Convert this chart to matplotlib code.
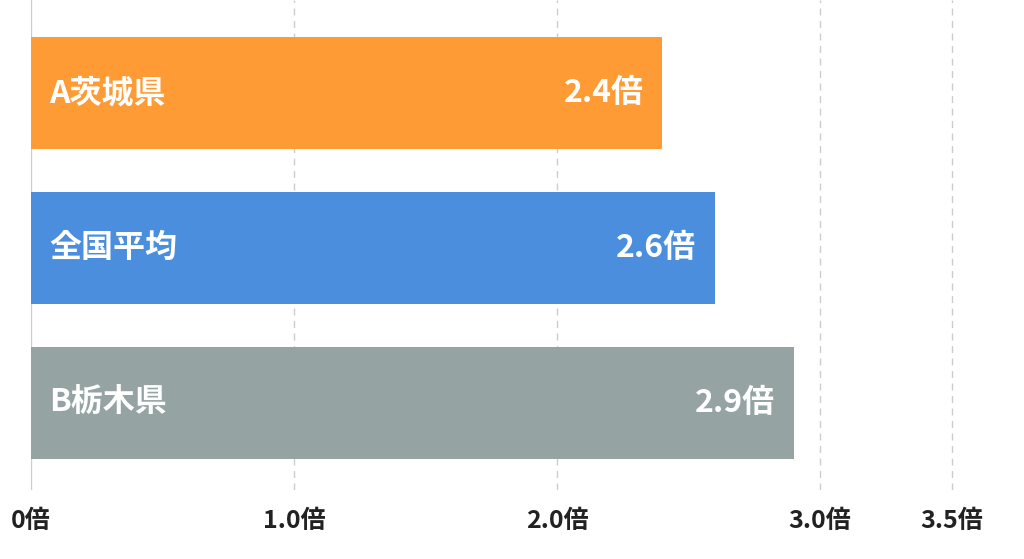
import matplotlib
matplotlib.use("Agg")
import matplotlib.pyplot as plt

plt.rcParams['font.family'] = ['Noto Sans CJK JP', 'DejaVu Sans']

categories = ["A茨城県", "全国平均", "B栃木県"]
values = [2.4, 2.6, 2.9]
colors = ["#FF9B34", "#4A8EDD", "#95A3A2"]
ticks = [0, 1.0, 2.0, 3.0, 3.5]
tick_labels = ["0倍", "1.0倍", "2.0倍", "3.0倍", "3.5倍"]

fig = plt.figure(figsize=(10.24, 5.59), dpi=100)
ax = fig.add_axes([31/1024, 1 - 490/559, 1 - 31/1024, 490/559])
y = range(len(categories))
ax.barh(y, values, height=0.72, color=colors, zorder=2)
ax.set_ylim(2.56, -0.6)
ax.set_xlim(0, (1024 - 31) / 263)
for t in ticks[1:]:
    ax.axvline(t, color="#cccccc", ls=(0, (5, 4)), lw=1, zorder=1)
ax.axvline(0, color="#cccccc", lw=1, zorder=1)
for i, (c, v) in enumerate(zip(categories, values)):
    ax.text(0.07, i, c, color="white", fontsize=23, fontweight="bold", va="center", ha="left", zorder=3)
    ax.text(v - 0.07, i, f"{v}倍", color="white", fontsize=23, fontweight="bold", va="center", ha="right", zorder=3)
for s in ax.spines.values():
    s.set_visible(False)
ax.set_yticks([])
ax.set_xticks(ticks)
ax.set_xticklabels(tick_labels, fontsize=18, fontweight="bold", color="#222222")
ax.tick_params(axis="x", length=0, pad=14)
fig.savefig("out.png", dpi=100)
